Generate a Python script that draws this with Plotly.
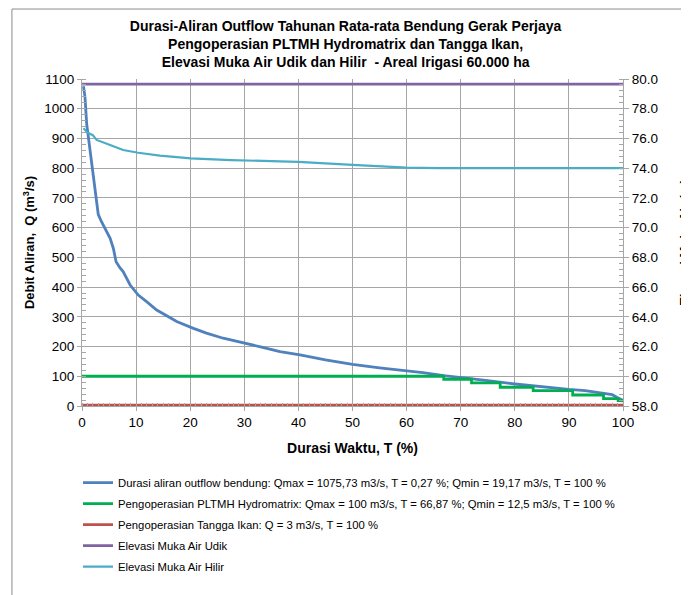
import plotly.graph_objects as go

# ---- data ----
t_outflow = [0.27, 0.55, 0.86, 1.2, 1.5, 2.1, 2.7, 3.0, 3.6, 4.4, 5.2, 5.8, 6.3, 7.0, 7.6,
             8.9, 10.4, 12.0, 13.8, 15.5, 17.5, 20.6, 23.0, 26.1, 30.4, 33.0, 36.6, 40.3,
             45.0, 50.0, 55.0, 60.0, 63.0, 66.9, 70.0, 75.0, 80.0, 85.0, 90.0, 93.0, 96.0,
             98.0, 99.0, 100.0]
q_outflow = [1075.73, 1040, 950, 900, 855, 777, 680, 645, 620, 590, 564, 530, 485, 465, 452,
             407, 373, 350, 323, 305, 284, 261, 245, 228, 211, 199, 183, 172,
             155, 140, 128, 119, 112, 102, 96, 85, 74, 64, 56, 52, 45,
             38, 28, 19.17]

t_pltmh = [0, 66.87, 72.0, 77.3, 83.4, 90.7, 96.4, 99.1, 100]
q_pltmh = [100, 90, 78, 63, 52, 37, 25, 18, 12.5]

t_tangga = [0, 100]
q_tangga = [3, 3]

t_udik = [0, 100]
el_udik = [79.65, 79.65]

t_hilir = [0.27, 1.0, 2.0, 2.7, 5.2, 7.6, 10.4, 14.4, 20.1, 27.5, 36.6, 40, 50, 60, 66.0, 70, 80, 90, 100]
el_hilir = [76.68, 76.4, 76.22, 75.9, 75.56, 75.22, 75.04, 74.84, 74.66, 74.54, 74.46, 74.42,
            74.22, 74.04, 74.0, 74.0, 74.0, 74.0, 74.0]

names = [
    "Durasi aliran outflow bendung: Qmax = 1075,73 m3/s, T = 0,27 %; Qmin = 19,17 m3/s, T = 100 %",
    "Pengoperasian PLTMH Hydromatrix: Qmax = 100 m3/s, T = 66,87 %; Qmin = 12,5 m3/s, T = 100 %",
    "Pengoperasian Tangga Ikan: Q = 3 m3/s, T = 100 %",
    "Elevasi Muka Air Udik",
    "Elevasi Muka Air Hilir",
]
colors = ["#4F81BD", "#00B050", "#C0504D", "#8064A2", "#4BACC6"]

FONT = "Liberation Sans, Arial, sans-serif"

fig = go.Figure()
fig.add_trace(go.Scatter(x=t_outflow, y=q_outflow, mode="lines", name=names[0],
                         line=dict(color=colors[0], width=2.8), legendgroup="a"))
fig.add_trace(go.Scatter(x=t_pltmh, y=q_pltmh, mode="lines", name=names[1], line_shape="hv",
                         line=dict(color=colors[1], width=2.8), legendgroup="b"))
fig.add_trace(go.Scatter(x=t_tangga, y=q_tangga, mode="lines", name=names[2],
                         line=dict(color=colors[2], width=2.8), legendgroup="c"))
fig.add_trace(go.Scatter(x=t_udik, y=el_udik, mode="lines", name=names[3], yaxis="y2",
                         line=dict(color=colors[3], width=2.8), legendgroup="d"))
fig.add_trace(go.Scatter(x=t_hilir, y=el_hilir, mode="lines", name=names[4], yaxis="y2",
                         line=dict(color=colors[4], width=2.2), legendgroup="e"))

grid = "#A6A6A6"
fig.update_layout(
    width=689, height=595,
    margin=dict(l=74, r=74, t=71, b=197),
    paper_bgcolor="white", plot_bgcolor="white",
    font=dict(family=FONT, size=13.5, color="#000000"),
    title=dict(
        text="Durasi-Aliran Outflow Tahunan Rata-rata Bendung Gerak Perjaya<br>"
             "Pengoperasian PLTMH Hydromatrix dan Tangga Ikan,<br>"
             "Elevasi Muka Air Udik dan Hilir  - Areal Irigasi 60.000 ha",
        x=0.49, xanchor="center", y=0.962, yanchor="top",
        font=dict(family=FONT, size=14, color="#000000", weight="bold"),
    ),
    xaxis=dict(
        range=[0, 100], dtick=10, showgrid=True, gridcolor=grid, gridwidth=1,
        showline=True, linecolor=grid, ticks="outside", ticklen=4, tickcolor=grid,
        minor=dict(dtick=1, ticks="inside", ticklen=3, tickcolor=grid, showgrid=False),
        zeroline=False, automargin=False,
        title=dict(text="<b>Durasi Waktu, T (%)</b>", font=dict(size=14), standoff=13),
    ),
    yaxis=dict(
        range=[0, 1100], dtick=100, showgrid=True, gridcolor=grid, gridwidth=1,
        showline=True, linecolor=grid, ticks="outside", ticklen=4, tickcolor=grid,
        minor=dict(dtick=20, ticks="inside", ticklen=4, tickcolor=grid, showgrid=False),
        zeroline=False, automargin=False,
        title=dict(text="<b>Debit Aliran,  Q (m<sup>3</sup>/s)</b>", font=dict(size=13), standoff=6),
    ),
    yaxis2=dict(
        range=[58, 80], dtick=2, tickformat=".1f", overlaying="y", side="right",
        showgrid=False, showline=True, linecolor=grid, ticks="outside", ticklen=5,
        tickcolor=grid,
        minor=dict(dtick=0.4, ticks="inside", ticklen=4, tickcolor=grid, showgrid=False),
        zeroline=False, automargin=False,
        title=dict(text="<b>Elevasi Muka Air (m)</b>", font=dict(size=13), standoff=22),
    ),
    legend=dict(
        x=-0.0074, xanchor="left", y=-0.19, yanchor="top",
        traceorder="grouped", tracegroupgap=2,
        font=dict(family=FONT, size=11.3, color="#000000"),
        bgcolor="rgba(0,0,0,0)", itemwidth=30,
    ),
    shapes=[dict(type="rect", xref="paper", yref="paper",
                 x0=-0.1295, x1=1.2, y0=-0.6, y1=1.214,
                 line=dict(color="#8C8C8C", width=1), fillcolor="rgba(0,0,0,0)", layer="below")],
)

fig.write_html("out.html")
